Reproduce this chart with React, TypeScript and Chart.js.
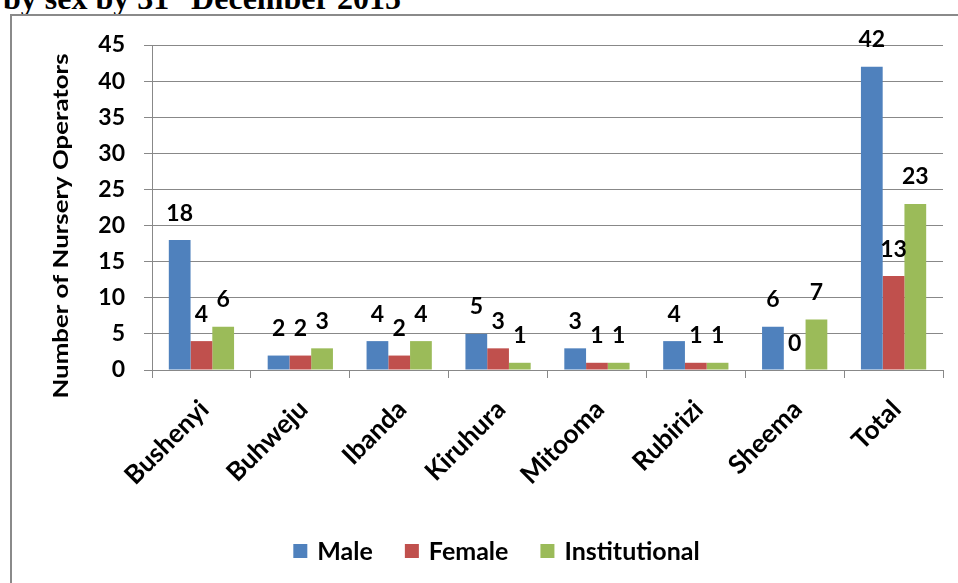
import React, { useEffect, useRef } from 'react';
import { Chart, registerables } from 'chart.js';

Chart.register(...registerables);

const categories = ['Bushenyi', 'Buhweju', 'Ibanda', 'Kiruhura', 'Mitooma', 'Rubirizi', 'Sheema', 'Total'];
const male = [18, 2, 4, 5, 3, 4, 6, 42];
const female = [4, 2, 2, 3, 1, 1, 0, 13];
const institutional = [6, 3, 4, 1, 1, 1, 7, 23];
const seriesNames = ['Male', 'Female', 'Institutional'];
const seriesColors = ['#4F81BD', '#C0504D', '#9BBB59'];
const yMin = 0;
const yMax = 45;
const yStep = 5;
const yTitle = 'Number of Nursery Operators';

const FONT = 'Lato';
const GRID = '#888888';

const overlay = {
  id: 'overlay',
  afterDatasetsDraw(chart: any) {
    const ctx = chart.ctx;
    ctx.save();
    // data labels
    ctx.font = `bold 23px ${FONT}`;
    ctx.fillStyle = '#000';
    ctx.textAlign = 'center';
    ctx.textBaseline = 'alphabetic';
    chart.data.datasets.forEach((ds: any, i: number) => {
      const meta = chart.getDatasetMeta(i);
      meta.data.forEach((bar: any, j: number) => {
        ctx.fillText(String(ds.data[j]), bar.x, bar.y - 19.5);
      });
    });
    // y axis title
    ctx.save();
    ctx.font = `bold 20px ${FONT}`;
    const w = ctx.measureText(yTitle).width;
    ctx.translate(62, 226);
    ctx.rotate(-Math.PI / 2);
    ctx.scale(345 / w, 1);
    ctx.textAlign = 'center';
    ctx.textBaseline = 'middle';
    ctx.fillText(yTitle, 0, 0);
    ctx.restore();
    // legend
    ctx.font = `bold 25px ${FONT}`;
    const box = 14;
    const gap = 10;
    const itemGap = 32;
    const widths = chart.data.datasets.map((d: any) => ctx.measureText(d.label).width);
    const total = widths.reduce((a: number, b: number) => a + b, 0) + chart.data.datasets.length * (box + gap) + itemGap * (chart.data.datasets.length - 1);
    let x = 496.5 - total / 2;
    const cy = 551;
    chart.data.datasets.forEach((d: any, i: number) => {
      ctx.fillStyle = d.backgroundColor;
      ctx.fillRect(x, cy - box / 2, box, box);
      x += box + gap;
      ctx.fillStyle = '#000';
      ctx.textAlign = 'left';
      ctx.textBaseline = 'middle';
      ctx.fillText(d.label, x, cy + 1);
      x += widths[i] + itemGap;
    });
    ctx.restore();
  },
};

export default function App() {
  const ref = useRef<HTMLCanvasElement | null>(null);
  useEffect(() => {
    if (!ref.current) return;
    const chart = new Chart(ref.current, {
      type: 'bar',
      data: {
        labels: categories,
        datasets: [male, female, institutional].map((d, i) => ({
          label: seriesNames[i],
          data: d,
          backgroundColor: seriesColors[i],
          borderWidth: 0,
          categoryPercentage: 0.66,
          barPercentage: 1,
        })),
      },
      options: {
        animation: false,
        responsive: false,
        devicePixelRatio: 1,
        layout: { padding: { top: 45, right: 15, bottom: 0, left: 0 } },
        plugins: { legend: { display: false }, tooltip: { enabled: false }, title: { display: false } },
        scales: {
          x: {
            grid: { display: true, drawOnChartArea: false, drawTicks: true, tickLength: 8, color: GRID, offset: true },
            border: { display: true, color: GRID, width: 1 },
            ticks: {
              font: { family: FONT, weight: 'bold', size: 26 },
              color: '#000',
              maxRotation: 45,
              minRotation: 45,
              autoSkip: false,
              padding: 16,
              labelOffset: 3,
            },
            afterFit: (s: any) => { s.height = 213; },
          },
          y: {
            min: yMin,
            max: yMax,
            ticks: { stepSize: yStep, font: { family: FONT, weight: 'bold', size: 23 }, color: '#000', padding: 19 },
            grid: { color: GRID, tickLength: 8, drawTicks: true },
            border: { display: true, color: GRID, width: 1 },
            afterFit: (s: any) => { s.width = 152; },
          },
        },
      } as any,
      plugins: [overlay],
    });
    return () => chart.destroy();
  }, []);

  return (
    <div style={{ position: 'fixed', left: 0, top: 0, width: 958, height: 583, overflow: 'hidden', background: '#fff' }}>
      <div style={{ position: 'absolute', left: 3, top: -25, whiteSpace: 'nowrap', fontFamily: '"Liberation Serif", "Times New Roman", serif', fontWeight: 'bold', fontSize: 32, lineHeight: '32px', color: '#000' }}>
        by sex by 31<sup style={{ fontSize: '0.6em' }}>st</sup> December 2015
      </div>
      <div style={{ position: 'absolute', left: 10, top: 14, width: 1000, height: 700, border: '2px solid #8a8a8a', boxSizing: 'border-box' }} />
      <canvas ref={ref} width={958} height={583} style={{ position: 'absolute', left: 0, top: 0, width: 958, height: 583 }} />
    </div>
  );
}
